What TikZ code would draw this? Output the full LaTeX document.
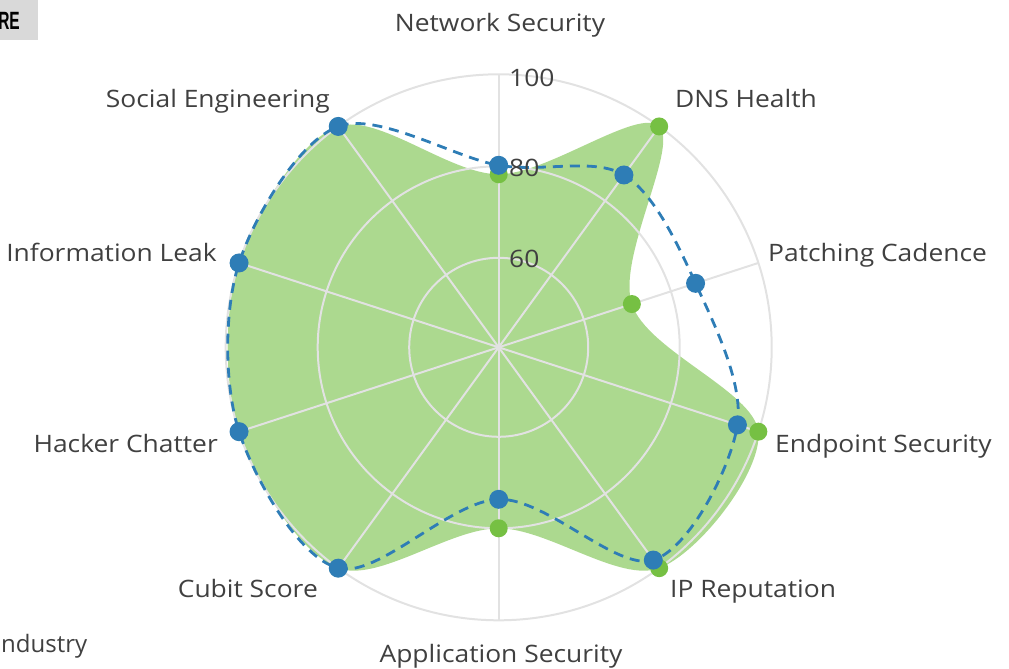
\documentclass[tikz,border=0pt]{standalone}
\usepackage{fontspec}
\setmainfont{Open Sans}
\newfontfamily\boldnarrow{Liberation Sans}
\newcommand{\widetxt}[1]{\scalebox{1.1}[1]{#1}}
\definecolor{txt}{HTML}{404040}
\definecolor{gfill}{HTML}{ACD98F}
\definecolor{gmark}{HTML}{76C043}
\definecolor{bmark}{HTML}{2E7DB6}
\definecolor{gridc}{HTML}{E2E2E2}
\definecolor{boxc}{HTML}{D9D9D9}
\tikzset{
  axlabel/.style={inner sep=0pt, text=txt, font=\fontsize{24}{28}\selectfont},
  ticklabel/.style={inner sep=0pt, text=txt, font=\fontsize{24}{28}\selectfont, anchor=base west},
  gridline/.style={draw=gridc, line width=2pt},
  seriesb/.style={draw=bmark, line width=2.8pt, dash pattern=on 10pt off 7pt},
  gdot/.style={circle, fill=gmark, inner sep=0pt, minimum size=18pt},
  bdot/.style={circle, fill=bmark, inner sep=0pt, minimum size=19pt},
}
\begin{document}
\begin{tikzpicture}[x=1pt,y=-1pt]
\useasboundingbox (0,0) rectangle (1009,669);
% title remnant box
\fill[boxc] (0,0) rectangle (38,40);
\node[inner sep=0pt, anchor=base east, font=\boldnarrow\bfseries\fontsize{25}{28}\selectfont] (title) at (20,30) {\scalebox{0.62}[1]{RE}};
\node[axlabel, anchor=base west] (legend) at (1,652) {ndustry};

\coordinate (c) at (498.7,347.3);
\begin{scope}[shift={(498.7,347.3)}, x=1pt, y=1pt]
  % green area
  \fill[gfill] plot[smooth cycle, tension=0.55] coordinates {
    (90:173) (54:273) (18:140) (-18:273) (-54:273)
    (-90:181) (-126:273) (-162:273) (162:273) (126:273)};
  % grid rings
  \draw[gridline] (0,0) circle (89.5);
  \draw[gridline] (0,0) circle (181);
  \draw[gridline] (0,0) circle (273);
  % spokes
  \foreach \a/\n in {90/ns,54/dns,18/pc,-18/es,-54/ipr,-90/as,-126/cs,-162/hc,162/il,126/se}{
    \coordinate (o\n) at (\a:273);
    \draw[gridline] (c) -- (o\n);
  }
  % blue dashed series
  \draw[seriesb] plot[smooth cycle, tension=0.55] coordinates {
    (90:182) (54:213) (18:207) (-18:251) (-54:263)
    (-90:152) (-126:273) (-162:273) (162:273) (126:273)};
  % green markers
  \foreach \a/\r [count=\i] in {90/173,54/273,18/140,-18/273,-54/273,-90/181,-126/273,-162/273,162/273,126/273}{
    \node[gdot] (g\i) at (\a:\r) {};
  }
  % blue markers
  \foreach \a/\r [count=\i] in {90/182,54/213,18/207,-18/251,-54/263,-90/152,-126/273,-162/273,162/273,126/273}{
    \node[bdot] (b\i) at (\a:\r) {};
  }
\end{scope}

% tick labels
\node[ticklabel] (t100) at (509,86) {\widetxt{100}};
\node[ticklabel] (t80) at (509,176) {\widetxt{80}};
\node[ticklabel] (t60) at (509,267) {\widetxt{60}};

% axis labels
\node[axlabel, anchor=base] (lns) at (500,32) {\widetxt{Network Security}};
\node[axlabel, anchor=base west] (ldns) at (675,107) {\widetxt{DNS Health}};
\node[axlabel, anchor=base west] (lpc) at (768,261) {\widetxt{Patching Cadence}};
\node[axlabel, anchor=base west] (les) at (775,452) {\widetxt{Endpoint Security}};
\node[axlabel, anchor=base west] (lipr) at (670,597) {\widetxt{IP Reputation}};
\node[axlabel, anchor=base] (las) at (501,662) {\widetxt{Application Security}};
\node[axlabel, anchor=base east] (lcs) at (318,597) {\widetxt{Cubit Score}};
\node[axlabel, anchor=base east] (lhc) at (218,452) {\widetxt{Hacker Chatter}};
\node[axlabel, anchor=base east] (lil) at (217,261) {\widetxt{Information Leak}};
\node[axlabel, anchor=base east] (lse) at (330,107) {\widetxt{Social Engineering}};
\end{tikzpicture}
\end{document}
